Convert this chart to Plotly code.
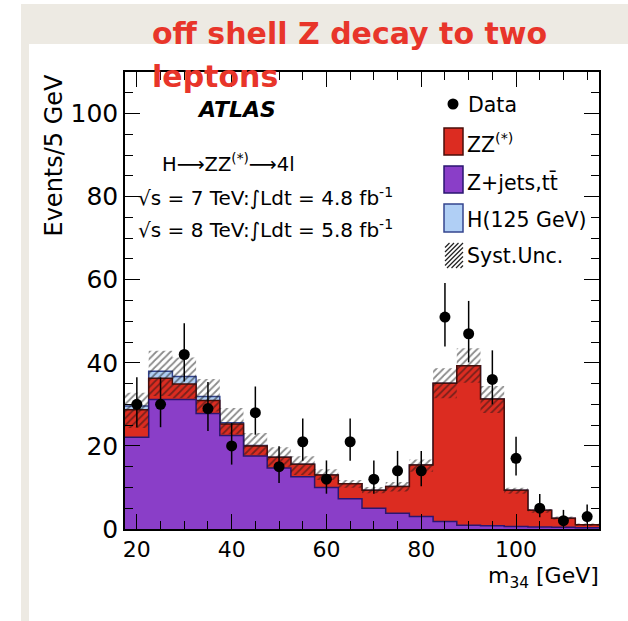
import plotly.graph_objects as go

# ---------------- data ----------------
bin_edges = [17.5, 22.5, 27.5, 32.5, 37.5, 42.5, 47.5, 52.5, 57.5, 62.5, 67.5,
             72.5, 77.5, 82.5, 87.5, 92.5, 97.5, 102.5, 107.5, 112.5, 117.5]
bin_centers = [20, 25, 30, 35, 40, 45, 50, 55, 60, 65,
               70, 75, 80, 85, 90, 95, 100, 105, 110, 115]

zjets_tt = [22.1, 31.2, 31.2, 27.8, 22.5, 17.6, 14.7, 12.6, 10.0, 7.3,
            5.0, 3.8, 3.0, 1.8, 0.9, 0.8, 0.6, 0.5, 0.4, 0.3]
zz_bkg = [6.6, 5.1, 3.7, 3.1, 2.8, 2.4, 2.6, 3.0, 3.0, 3.6,
          4.3, 6.4, 12.4, 33.3, 38.4, 30.5, 8.7, 4.0, 2.2, 0.7]
higgs_125 = [0.9, 1.7, 1.8, 1.0, 0.3, 0.1, 0.0, 0.0, 0.0, 0.0,
             0.0, 0.0, 0.0, 0.0, 0.0, 0.0, 0.0, 0.0, 0.0, 0.0]
syst_hi = [32.8, 42.9, 41.3, 36.1, 29.1, 23.1, 19.7, 17.5, 14.4, 11.8,
           10.1, 11.3, 16.7, 38.7, 43.5, 34.4, 9.9, 4.8, 3.0, 1.3]
syst_lo = [24.3, 32.0, 31.5, 28.3, 22.8, 17.9, 15.0, 13.0, 11.8, 9.9,
           8.6, 9.0, 13.8, 31.5, 35.2, 27.9, 8.5, 3.9, 2.3, 0.8]
data_counts = [30, 30, 42, 29, 20, 28, 15, 21, 12, 21,
               12, 14, 14, 51, 47, 36, 17, 5, 2, 3]
data_err_up = [6.5, 6.5, 7.5, 6.4, 5.5, 6.3, 4.9, 5.6, 4.5, 5.6,
               4.5, 4.8, 4.8, 8.2, 7.9, 7.0, 5.2, 3.4, 2.6, 2.9]
data_err_dn = [5.5, 5.5, 6.5, 5.4, 4.5, 5.3, 3.9, 4.6, 3.5, 4.6,
               3.5, 3.7, 3.7, 7.1, 6.9, 6.0, 4.1, 2.2, 1.4, 1.7]

x_tick_vals = [20, 40, 60, 80, 100]
y_tick_vals = [0, 20, 40, 60, 80, 100]

# ---------------- styles ----------------
RED = "#DC2C21"
RED_EDGE = "#4A0E0A"
PURPLE = "#8A3EC8"
PURPLE_EDGE = "#2A1670"
BLUE = "#B0CFF5"
BLUE_EDGE = "#34458F"
BEIGE = "#EDEAE3"
TITLE_RED = "#E8352A"
FONT = "DejaVu Sans"

W, H = 628, 621
L, R, T, B = 125, 599, 72, 529  # plot area in pixels


def px(x):
    return (x - L) / (R - L)


def py(y):
    return (B - y) / (B - T)


# cumulative stacks
cum_purple = list(zjets_tt)
cum_red = [a + b for a, b in zip(zjets_tt, zz_bkg)]
cum_blue = [a + b for a, b in zip(cum_red, higgs_125)]


def step_y(vals):
    return list(vals) + [vals[-1]]


fig = go.Figure()

for vals, fillc, edge in [(cum_blue, BLUE, BLUE_EDGE),
                          (cum_red, RED, RED_EDGE),
                          (cum_purple, PURPLE, PURPLE_EDGE)]:
    fig.add_trace(go.Scatter(
        x=bin_edges, y=step_y(vals), mode="lines", line_shape="hv",
        line=dict(color=edge, width=1.5), fill="tozeroy", fillcolor=fillc,
        hoverinfo="skip", showlegend=False))

# systematic band (hatched), built per bin
band_x, band_y = [], []
for i in range(len(bin_centers)):
    band_x += [bin_edges[i], bin_edges[i + 1]]
    band_y += [syst_hi[i], syst_hi[i]]
for i in reversed(range(len(bin_centers))):
    band_x += [bin_edges[i + 1], bin_edges[i]]
    band_y += [syst_lo[i], syst_lo[i]]
fig.add_trace(go.Scatter(
    x=band_x, y=band_y, mode="none", fill="toself",
    fillcolor="rgba(0,0,0,0)",
    fillpattern=dict(shape="/", fgcolor="#151515", bgcolor="rgba(0,0,0,0)",
                     size=5, solidity=0.35, fillmode="overlay"),
    hoverinfo="skip", showlegend=False))

# data
fig.add_trace(go.Scatter(
    x=bin_centers, y=data_counts, mode="markers",
    marker=dict(color="black", size=11),
    error_y=dict(type="data", array=data_err_up, arrayminus=data_err_dn,
                 color="black", thickness=1.5, width=0),
    showlegend=False))

# ---------------- shapes (background + legend) ----------------
shapes = [
    dict(type="rect", xref="paper", yref="paper", x0=px(21), x1=px(628),
         y0=py(44), y1=py(4), fillcolor=BEIGE, line_width=0, layer="below"),
    dict(type="rect", xref="paper", yref="paper", x0=px(21), x1=px(29),
         y0=py(621), y1=py(44), fillcolor=BEIGE, line_width=0, layer="below"),
    # legend: data dot
    dict(type="circle", xref="paper", yref="paper", x0=px(447.5), x1=px(458.5),
         y0=py(109.5), y1=py(98.5), fillcolor="black", line_width=0),
]
for (yt, yb, fc, lc) in [(128, 155, RED, RED_EDGE), (166, 193, PURPLE, PURPLE_EDGE),
                         (204, 232, BLUE, BLUE_EDGE)]:
    shapes.append(dict(type="rect", xref="paper", yref="paper", x0=px(444), x1=px(463),
                       y0=py(yb), y1=py(yt), fillcolor=fc,
                       line=dict(color=lc, width=1.5)))
# hatched legend swatch
hx0, hx1, hyt, hyb = 445, 463, 243, 268
c = hx0 + hyt
while c < hx1 + hyb:
    pts = []
    for yy in (hyt, hyb):
        xx = c - yy
        if hx0 <= xx <= hx1:
            pts.append((xx, yy))
    for xx in (hx0, hx1):
        yy = c - xx
        if hyt <= yy <= hyb:
            pts.append((xx, yy))
    if len(pts) >= 2:
        pts = sorted(set(pts))
        (ax, ay), (bx, by) = pts[0], pts[-1]
        shapes.append(dict(type="line", xref="paper", yref="paper",
                           x0=px(ax), y0=py(ay), x1=px(bx), y1=py(by),
                           line=dict(color="#222222", width=1.3)))
    c += 4.5


def ann(text, x, y_bottom, size, color="black", family=FONT, xanchor="left"):
    return dict(text=text, xref="paper", yref="paper", x=px(x), y=py(y_bottom),
                xanchor=xanchor, yanchor="bottom", showarrow=False,
                font=dict(family=family, size=size, color=color))


annotations = [
    ann("<b>off shell Z decay to two</b>", 150, 53, 30, TITLE_RED),
    ann("<b>leptons</b>", 150, 96, 30, TITLE_RED),
    ann("<b><i>ATLAS</i></b>", 195, 124, 22),
    ann("H\u27F6ZZ<sup>(*)</sup>\u27F64l", 160, 177.5, 19.5),
    ann("\u221As = 7 TeV:\u222BLdt = 4.8 fb<sup>-1</sup>", 136, 211.5, 20),
    ann("\u221As = 8 TeV:\u222BLdt = 5.8 fb<sup>-1</sup>", 136, 244.5, 20),
    ann("Data", 466, 118.7, 20.5),
    ann("ZZ<sup>(*)</sup>", 465, 158.7, 20.5),
    ann("Z+jets,tt\u0304", 465, 196.7, 20.5),
    ann("H(125 GeV)", 465, 233.7, 20.5),
    ann("Syst.Unc.", 465, 269.7, 20.5),
    dict(text="Events/5 GeV", xref="paper", yref="paper", x=px(53), y=py(72),
         xanchor="center", yanchor="top", textangle=-90, showarrow=False,
         font=dict(family=FONT, size=24, color="black")),
    dict(text="m<sub>34</sub> [GeV]", xref="paper", yref="paper", x=px(601), y=py(560.6),
         xanchor="right", yanchor="top", showarrow=False,
         font=dict(family=FONT, size=22, color="black")),
]

axis_common = dict(showline=True, linecolor="black", linewidth=1.5, mirror="allticks",
                   ticks="inside", ticklen=15, tickwidth=1.2, tickcolor="black",
                   showgrid=False, zeroline=False)

fig.update_layout(
    width=W, height=H, autosize=False,
    margin=dict(l=L, r=W - R, t=T, b=H - B, pad=0),
    paper_bgcolor="white", plot_bgcolor="white",
    showlegend=False,
    xaxis=dict(range=[bin_edges[0], bin_edges[-1]], tickvals=x_tick_vals,
               tickfont=dict(family=FONT, size=22, color="black"),
               minor=dict(dtick=5, tick0=0, ticks="inside", ticklen=8,
                          tickwidth=1, tickcolor="black"),
               **axis_common),
    yaxis=dict(range=[0, 110], tickvals=y_tick_vals,
               tickfont=dict(family=FONT, size=25, color="black"),
               minor=dict(dtick=5, tick0=0, ticks="inside", ticklen=8,
                          tickwidth=1, tickcolor="black"),
               **axis_common),
    shapes=shapes,
    annotations=annotations,
)

fig.write_html("out.html")
